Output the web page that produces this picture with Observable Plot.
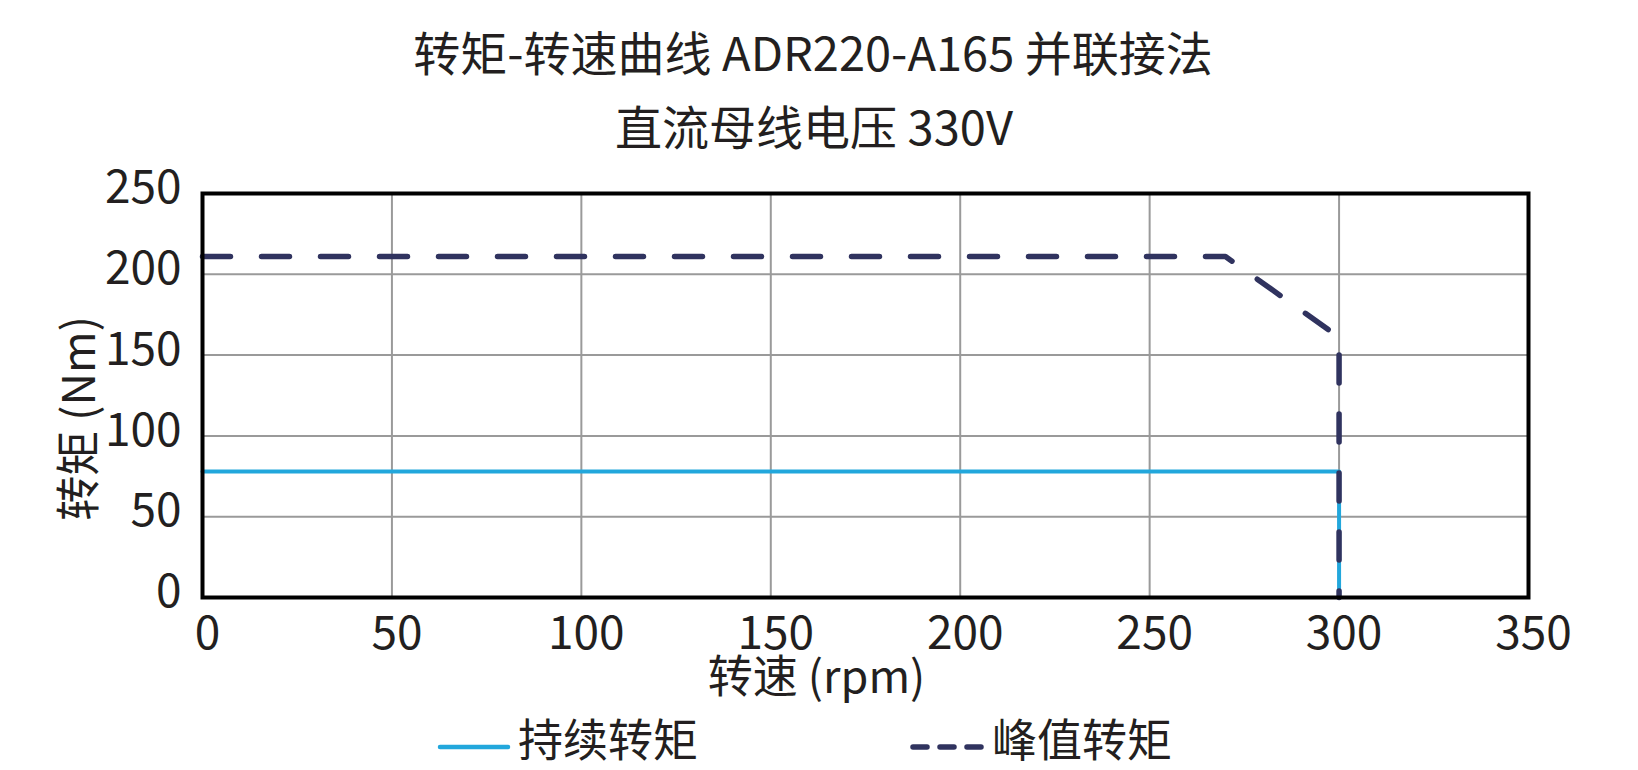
<!DOCTYPE html>
<html>
<head>
<meta charset="utf-8">
<script src="https://cdn.jsdelivr.net/npm/d3@7"></script>
<script src="https://cdn.jsdelivr.net/npm/@observablehq/plot@0.6"></script>
<style>
  html, body { margin: 0; padding: 0; background: #fff; }
  #wrap { width: 1638px; height: 770px; overflow: hidden; font-family: "Noto Sans CJK SC", "Noto Sans", sans-serif; color: #231f20; }
  svg text { font-family: "Noto Sans CJK SC", "Noto Sans", sans-serif; }
  #head, #legend { display: block; overflow: visible; }
  #chart svg { display: block; overflow: visible; }
</style>
</head>
<body>
<div id="wrap">
  <svg id="head" width="1638" height="160">
    <text id="t1" x="813" y="71" text-anchor="middle" font-size="47" fill="#231f20"></text>
    <text id="t2" x="814" y="145" text-anchor="middle" font-size="47" fill="#231f20"></text>
  </svg>
  <div id="chart"></div>
  <svg id="legend" width="1638" height="65"></svg>
</div>
<script>
// ---- data ----
const titleText = "转矩-转速曲线 ADR220-A165 并联接法";
const subtitleText = "直流母线电压 330V";
const xLabel = "转速 (rpm)";
const yLabel = "转矩 (Nm)";
const seriesNames = ["持续转矩", "峰值转矩"];
const xTicks = [0, 50, 100, 150, 200, 250, 300, 350];
const yTicks = [0, 50, 100, 150, 200, 250];
const continuousSpeed = [0, 300, 300];
const continuousTorque = [78, 78, 0];
const peakSpeed = [0, 270, 300, 300];
const peakTorque = [211, 211, 161, 0];

const blue = "#22a7dc";
const navy = "#30335f";
const ink = "#231f20";

document.getElementById("t1").textContent = titleText;
document.getElementById("t2").textContent = subtitleText;

const cont = continuousSpeed.map((s, i) => ({speed: s, torque: continuousTorque[i]}));
const peak = peakSpeed.map((s, i) => ({speed: s, torque: peakTorque[i]}));

const chart = Plot.plot({
  width: 1638,
  height: 545,
  marginLeft: 202,
  marginRight: 110,
  marginTop: 33,
  marginBottom: 108,
  style: {fontFamily: '"Noto Sans CJK SC", "Noto Sans", sans-serif', color: ink, background: "#fff", overflow: "visible"},
  x: {domain: [0, 350]},
  y: {domain: [0, 250]},
  marks: [
    Plot.gridX(xTicks, {stroke: "#9a9a9a", strokeOpacity: 1, strokeWidth: 2}),
    Plot.gridY(yTicks, {stroke: "#9a9a9a", strokeOpacity: 1, strokeWidth: 2}),
    Plot.line(cont, {x: "speed", y: "torque", stroke: blue, strokeWidth: 4}),
    Plot.line(peak, {x: "speed", y: "torque", stroke: navy, strokeWidth: 5.5,
      strokeDasharray: "28,31", strokeLinecap: "round", strokeLinejoin: "round"}),
    Plot.frame({stroke: "#000", strokeWidth: 4}),
    Plot.axisX(xTicks, {tickSize: 0, tickPadding: 19, fontSize: 46, dx: 5, label: null, fill: ink}),
    Plot.axisY(yTicks, {tickSize: 0, tickPadding: 21, fontSize: 46, dy: -5, label: null, fill: ink}),
    Plot.text([xLabel], {frameAnchor: "bottom", lineAnchor: "top", textAnchor: "middle", dy: 64, dx: -49, fontSize: 45, fill: ink}),
    Plot.text([yLabel], {frameAnchor: "left", lineAnchor: "middle", textAnchor: "middle", rotate: -90, dx: -122, dy: 23, fontSize: 45, fill: ink})
  ]
});
document.getElementById("chart").appendChild(chart);

// ---- legend ----
const leg = d3.select("#legend");
const items = [
  {name: seriesNames[0], color: blue, x0: 440, x1: 508, dash: null, tx: 518},
  {name: seriesNames[1], color: navy, x0: 913, x1: 983, dash: "14,13", tx: 992}
];
items.forEach(it => {
  leg.append("line").attr("x1", it.x0).attr("x2", it.x1).attr("y1", 42).attr("y2", 42)
    .attr("stroke", it.color).attr("stroke-width", it.dash ? 5.5 : 4.5)
    .attr("stroke-linecap", "round")
    .attr("stroke-dasharray", it.dash);
  leg.append("text").attr("x", it.tx).attr("y", 52).attr("font-size", 45).attr("fill", ink).text(it.name);
});
</script>
</body>
</html>
